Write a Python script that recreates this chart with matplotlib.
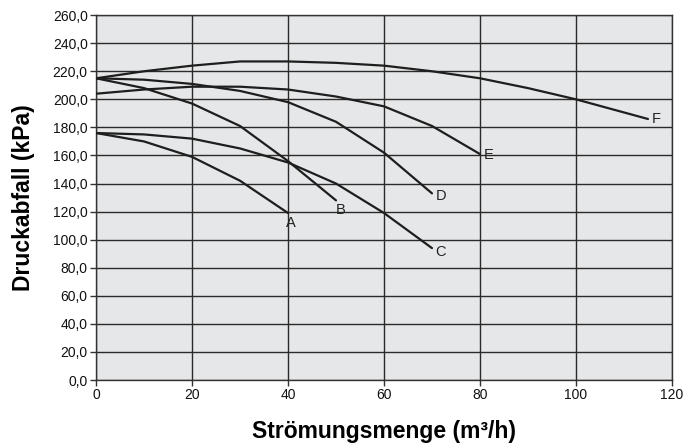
import matplotlib.pyplot as plt
from matplotlib.ticker import FuncFormatter

plt.rcParams["font.family"] = ["Liberation Sans", "DejaVu Sans"]

# pump curves (flow m3/h -> pressure drop kPa)
x_a = [0, 10, 20, 30, 40]
y_a = [176, 170, 159, 142, 119]
x_b = [0, 10, 20, 30, 40, 50]
y_b = [215, 208, 197, 181, 156, 128]
x_c = [0, 10, 20, 30, 40, 50, 60, 70]
y_c = [176, 175, 172, 165, 155, 140, 119, 94]
x_d = [0, 10, 20, 30, 40, 50, 60, 70]
y_d = [215, 214, 211, 206, 198, 184, 162, 133]
x_e = [0, 10, 20, 30, 40, 50, 60, 70, 80]
y_e = [204, 207, 209, 209, 207, 202, 195, 181, 161]
x_f = [0, 10, 20, 30, 40, 50, 60, 70, 80, 90, 100, 115]
y_f = [215, 220, 224, 227, 227, 226, 224, 220, 215, 208, 200, 186]

curves = [("A", x_a, y_a), ("B", x_b, y_b), ("C", x_c, y_c),
          ("D", x_d, y_d), ("E", x_e, y_e), ("F", x_f, y_f)]
# label offsets in points relative to curve end
offsets = {"A": (-1.5, -7.5), "B": (-0.5, -7), "C": (2, -3),
           "D": (2.5, -2), "E": (3, -1), "F": (2.5, 0)}

fig = plt.figure(figsize=(6.84, 4.45), dpi=100)
ax = fig.add_axes([0.1404, 0.146, 0.842, 0.82])
ax.set_facecolor("#e6e7e8")

for name, xs, ys in curves:
    ax.plot(xs, ys, color="#1e1e1e", lw=1.6, solid_capstyle="round", zorder=3)
    ax.annotate(name, (xs[-1], ys[-1]), xytext=offsets[name],
                textcoords="offset points", fontsize=10.5, color="#222222",
                ha="left", va="center")

ax.set_xlim(0, 120)
ax.set_ylim(0, 260)
ax.set_xticks(range(0, 121, 20))
ax.set_yticks(range(0, 261, 20))
ax.yaxis.set_major_formatter(FuncFormatter(lambda v, p: f"{v:.1f}".replace(".", ",")))
ax.grid(True, color="#2a2a2a", lw=1.0)
ax.set_axisbelow(True)
for s in ax.spines.values():
    s.set_color("#333333")
    s.set_linewidth(1.0)
ax.tick_params(direction="out", length=4, width=1, color="#333333",
               labelsize=10, labelcolor="#111111", pad=2)

ax.set_xlabel("Strömungsmenge (m³/h)", fontsize=16.5, fontweight="bold",
              labelpad=13)
ax.set_ylabel("Druckabfall (kPa)", fontsize=16.5, fontweight="bold",
              labelpad=13)

fig.savefig("out.png", dpi=100)
